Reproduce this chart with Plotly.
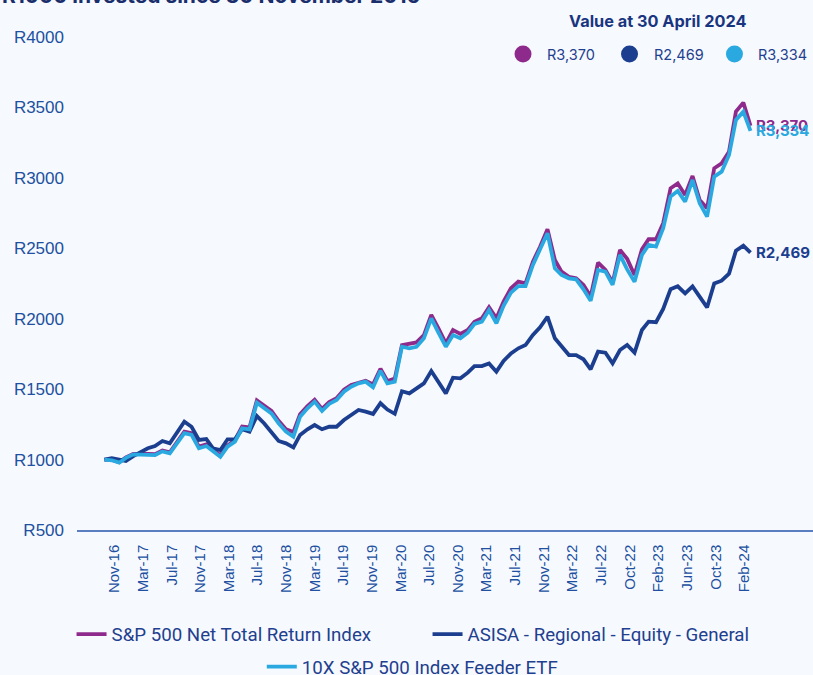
import plotly.graph_objects as go
import pandas as pd

# ---------------- data ----------------
try:
    months = pd.date_range("2016-11-30", "2024-04-30", freq="ME")
except Exception:
    months = pd.date_range("2016-11-30", "2024-04-30", freq="M")

sp500_name = "S&P 500 Net Total Return Index"
asisa_name = "ASISA - Regional - Equity - General"
etf_name = "10X S&P 500 Index Feeder ETF"

sp500 = [
    1000, 998, 982, 1015, 1040, 1042, 1040, 1038, 1065, 1052,
    1125, 1198, 1187, 1092, 1108, 1068, 1030, 1100, 1138, 1235,
    1228, 1420, 1382, 1345, 1275, 1215, 1195, 1322, 1380, 1425,
    1360, 1408, 1435, 1497, 1530, 1548, 1560, 1534, 1645, 1558,
    1575, 1813, 1825, 1832, 1884, 2027, 1932, 1825, 1920, 1892,
    1920, 1979, 2003, 2081, 2003, 2121, 2216, 2263, 2251, 2405,
    2511, 2635, 2417, 2334, 2298, 2287, 2240, 2157, 2398, 2346,
    2255, 2488, 2425, 2310, 2493, 2564, 2564, 2678, 2926, 2961,
    2879, 3013, 2843, 2784, 3068, 3103, 3186, 3470, 3534, 3370]

asisa = [
    1000, 1009, 1000, 990, 1025, 1050, 1080, 1096, 1132, 1115,
    1186, 1269, 1233, 1139, 1146, 1080, 1068, 1144, 1144, 1215,
    1198, 1309, 1258, 1198, 1132, 1115, 1087, 1175, 1215, 1245,
    1215, 1233, 1233, 1281, 1316, 1352, 1340, 1324, 1400, 1355,
    1325, 1485, 1470, 1506, 1541, 1629, 1553, 1470, 1581, 1577,
    1617, 1664, 1664, 1683, 1624, 1700, 1754, 1790, 1813, 1885,
    1939, 2014, 1861, 1801, 1742, 1742, 1712, 1641, 1766, 1759,
    1683, 1778, 1813, 1759, 1920, 1979, 1975, 2070, 2210, 2230,
    2180, 2230, 2160, 2080, 2250, 2270, 2320, 2483, 2519, 2469]

etf = [
    1000, 995, 978, 1012, 1037, 1037, 1035, 1032, 1058, 1044,
    1115, 1187, 1175, 1080, 1096, 1056, 1020, 1091, 1127, 1222,
    1215, 1404, 1364, 1328, 1258, 1198, 1162, 1304, 1364, 1411,
    1345, 1395, 1423, 1482, 1517, 1541, 1553, 1513, 1630, 1541,
    1553, 1801, 1790, 1801, 1861, 2003, 1901, 1801, 1884, 1861,
    1901, 1963, 1979, 2062, 1967, 2091, 2185, 2232, 2232, 2382,
    2493, 2607, 2358, 2311, 2287, 2280, 2209, 2128, 2346, 2334,
    2240, 2453, 2350, 2262, 2453, 2524, 2512, 2642, 2867, 2907,
    2831, 2985, 2820, 2725, 3009, 3044, 3162, 3411, 3470, 3334]

tick_labels = ["Nov-16", "Mar-17", "Jul-17", "Nov-17", "Mar-18", "Jul-18", "Nov-18",
               "Mar-19", "Jul-19", "Nov-19", "Mar-20", "Jul-20", "Nov-20", "Mar-21",
               "Jul-21", "Nov-21", "Mar-22", "Jul-22", "Oct-22", "Feb-23", "Jun-23",
               "Oct-23", "Feb-24"]
tick_step_days = 120
tick_dates = [months[0] + pd.Timedelta(days=tick_step_days * k) for k in range(len(tick_labels))]

title_text = "R1000 invested since 30 November 2016"
value_header = "Value at 30 April 2024"

# ---------------- style ----------------
PURPLE = "#8E2A8C"
NAVY = "#1B3E8F"
CYAN = "#29A9E0"
TEXT = "#1F3F8F"
TICK = "#2150A0"
BG = "#F6F9FE"

fig = go.Figure()
series = [
    (sp500_name, sp500, PURPLE, "legend"),
    (asisa_name, asisa, NAVY, "legend"),
    (etf_name, etf, CYAN, "legend2"),
]
for name, vals, col, lg in series:
    fig.add_trace(go.Scatter(
        x=months, y=vals, name=name, mode="lines",
        line=dict(color=col, width=3.8), legend=lg,
    ))

# end labels
for name, vals, col, lg in series:
    fig.add_annotation(
        x=months[-1], y=vals[-1], xref="x", yref="y",
        text=f"<b>R{vals[-1]:,}</b>", showarrow=False,
        xanchor="left", yanchor="middle", xshift=4,
        font=dict(family="Inter", size=15, color=col),
    )

# title (partially cut off at the top)
fig.add_annotation(
    x=-0.1046, y=1.055, xref="paper", yref="paper",
    text=f"<b>{title_text}</b>", showarrow=False,
    xanchor="left", yanchor="bottom",
    font=dict(family="Inter", size=21, color="#1A2E6C"),
)

# value header + circles
fig.add_annotation(
    x=0.7887, y=1.0325, xref="paper", yref="paper",
    text=f"<b>{value_header}</b>", showarrow=False,
    xanchor="center", yanchor="middle",
    font=dict(family="Inter", size=16.3, color="#1A3580"),
)
circle_x = [0.606, 0.7507, 0.8933]
for (name, vals, col, lg), cx in zip(series, circle_x):
    fig.add_shape(
        type="circle", xref="paper", yref="paper",
        xsizemode="pixel", ysizemode="pixel",
        xanchor=cx, yanchor=0.9655,
        x0=-8.5, x1=8.5, y0=-8.5, y1=8.5,
        fillcolor=col, line_width=0,
    )
    fig.add_annotation(
        x=cx, y=0.9655, xref="paper", yref="paper", xshift=22,
        text=f"R{vals[-1]:,}", showarrow=False,
        xanchor="left", yanchor="middle",
        font=dict(family="Inter", size=14.5, color=TEXT),
    )

legend_font = dict(family="Roboto", size=18.7, color=TEXT)
fig.update_layout(
    width=813, height=675,
    margin=dict(l=77, r=0, t=37, b=145),
    paper_bgcolor=BG, plot_bgcolor=BG,
    showlegend=True,
    legend=dict(orientation="h", xref="container", x=0.088, xanchor="left",
                yref="container", y=0.06, yanchor="middle",
                font=legend_font, bgcolor="rgba(0,0,0,0)",
                entrywidth=311, itemwidth=30),
    legend2=dict(orientation="h", xref="container", x=0.322, xanchor="left",
                 yref="container", y=0.012, yanchor="middle",
                 font=legend_font, bgcolor="rgba(0,0,0,0)", itemwidth=30),
    xaxis=dict(
        type="date", range=["2016-08-07", "2025-01-17"],
        tickmode="array", tickvals=tick_dates, ticktext=tick_labels,
        tickangle=-90, ticklabelshift=10, ticklabelstandoff=7,
        tickfont=dict(family="Liberation Sans", size=15, color=TICK),
        showgrid=False, zeroline=False,
        showline=True, linecolor="#5B7EC2", linewidth=1.5,
        ticks="",
    ),
    yaxis=dict(
        range=[500, 4000], tick0=500, dtick=500, tickprefix="R",
        tickformat="d", showgrid=False, zeroline=False, showline=False,
        tickfont=dict(family="Liberation Sans", size=17, color=TICK),
        ticklabelstandoff=12,
    ),
)

fig.write_html(
    "out.html",
    config={"displayModeBar": False},
    post_script="document.body.style.margin='0px';document.body.style.background='#F6F9FE';",
)
